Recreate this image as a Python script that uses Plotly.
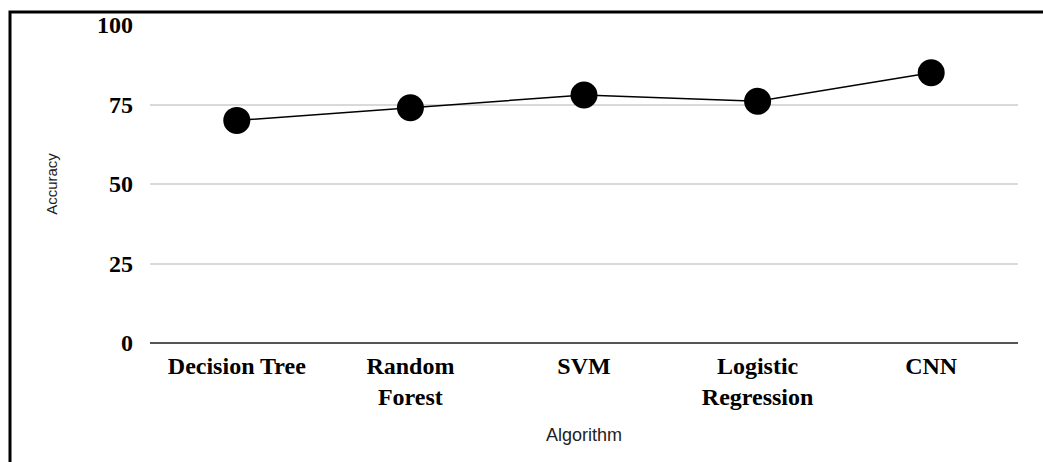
import plotly.graph_objects as go

algorithms = ["Decision Tree", "Random<br>Forest", "SVM", "Logistic<br>Regression", "CNN"]
accuracy = [70, 74, 78, 76, 85]
y_ticks = [0, 25, 50, 75, 100]

fig = go.Figure()
fig.add_trace(go.Scatter(
    x=algorithms, y=accuracy, mode="lines+markers",
    line=dict(color="black", width=1.5),
    marker=dict(color="black", size=27),
    showlegend=False,
))

W, H = 1043, 462
L, T = 150, 25
pw, ph = 868, 318
R, B = W - L - pw, H - T - ph

fig.update_layout(
    width=W, height=H,
    margin=dict(l=L, r=R, t=T, b=B),
    plot_bgcolor="white", paper_bgcolor="white",
    xaxis=dict(
        type="category", showgrid=False, zeroline=False,
        showline=False, ticks="",
        tickfont=dict(family="Liberation Serif", size=24, color="black", weight="bold"),
        ticklabelstandoff=6,
        title=dict(text="Algorithm", font=dict(family="Liberation Sans", size=18, color="#222"), standoff=19),
        range=[-0.5, 4.5],
    ),
    yaxis=dict(
        range=[0, 100], tickvals=y_ticks, showgrid=True, gridcolor="#d9d9d9", gridwidth=1.5,
        zeroline=True, zerolinecolor="#555", zerolinewidth=1.5,
        tickfont=dict(family="Liberation Serif", size=24, color="black", weight="bold"),
        ticklabelstandoff=16,
        title=dict(text="Accuracy", font=dict(family="Liberation Sans", size=15, color="#222"), standoff=35),
    ),
)

# outer frame of the figure
fig.add_shape(type="rect", xref="paper", yref="paper",
              x0=(10 - L) / pw, x1=(W + 10 - L) / pw,
              y0=-(H + 10 - (T + ph)) / ph, y1=1 + (T - 12) / ph,
              line=dict(color="black", width=3), layer="below")

fig.write_html("out.html", config={"displayModeBar": False},
               post_script="document.body.style.margin='0';")
